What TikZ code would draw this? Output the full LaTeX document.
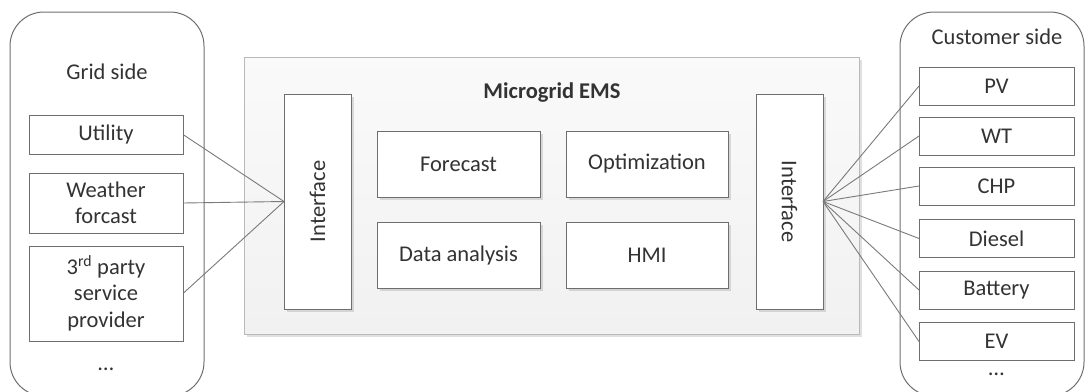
\documentclass[tikz,border=0pt]{standalone}
\usepackage{fontspec}
\setmainfont{Carlito}
\usetikzlibrary{shadows}
\definecolor{bd}{HTML}{6E6E6E}
\definecolor{ln}{HTML}{7A7A7A}
\definecolor{tx}{HTML}{333333}
\begin{document}
\begin{tikzpicture}[x=1pt,y=-1pt,
  every node/.style={inner sep=0pt,outer sep=0pt,text=tx,font=\fontsize{22.5}{26.5}\selectfont},
  sidebox/.style={draw=bd,line width=1pt,rounded corners=34pt},
  itembox/.style={draw=bd,line width=0.9pt,fill=white,align=center},
  inner/.style={draw=bd,line width=0.9pt,fill=white,align=center,
     drop shadow={shadow xshift=3pt,shadow yshift=-3pt,opacity=0.12,fill=black}},
  conn/.style={draw=ln,line width=0.9pt}]
\useasboundingbox (0,0) rectangle (1086,391);
\clip (0,0) rectangle (1086,391);
% side containers
\draw[sidebox] (10,12) rectangle (204,396);
\draw[sidebox] (900,12) rectangle (1084,396);
\node (gridlbl) at (107,72) {Grid side};
\node (custlbl) at (997,37) {Customer side};
% EMS box
\path[draw=gray!55,line width=1pt,top color=gray!4,bottom color=gray!11,
  drop shadow={shadow xshift=3pt,shadow yshift=-3pt,opacity=0.12,fill=black}] (244,57) rectangle (859,334);
\node[font=\fontsize{22.5}{26.5}\selectfont\bfseries] (ems) at (552,93) {Microgrid EMS};
% interfaces
\node[inner,minimum width=67pt,minimum height=215pt] (ifl) at (317.5,201.5) {};
\node[rotate=90] at (ifl.center) {Interface};
\node[inner,minimum width=67pt,minimum height=215pt] (ifr) at (789.5,201.5) {};
\node[rotate=-90] at (ifr.center) {Interface};
% modules
\node[inner,minimum width=163pt,minimum height=66pt] (fc) at (458.5,164) {Forecast};
\node[inner,minimum width=163pt,minimum height=66pt] (da) at (458.5,255) {Data analysis};
\node[inner,minimum width=162pt,minimum height=66pt] (opt) at (647,164) {Optimization};
\node[inner,minimum width=162pt,minimum height=66pt] (hmi) at (647,255) {HMI};
% grid side items
\node[itembox,minimum width=154pt,minimum height=39pt] (util) at (106,134.5) {Utility};
\node[itembox,minimum width=154pt,minimum height=60pt] (wf) at (106,203) {Weather\\forcast};
\node[itembox,minimum width=154pt,minimum height=95pt] (tp) at (106,293.5) {3\textsuperscript{rd} party\\service\\provider};
\node (gdots) at (106,369) {\dots};
% customer side items
\node[itembox,minimum width=155pt,minimum height=38pt] (pv) at (996.5,86) {PV};
\node[itembox,minimum width=155pt,minimum height=38pt] (wt) at (996.5,136) {WT};
\node[itembox,minimum width=155pt,minimum height=38pt] (chp) at (996.5,186) {CHP};
\node[itembox,minimum width=155pt,minimum height=38pt] (dsl) at (996.5,238.5) {Diesel};
\node[itembox,minimum width=155pt,minimum height=38pt] (bat) at (996.5,290) {Battery};
\node[itembox,minimum width=155pt,minimum height=38pt] (ev) at (996.5,341.5) {EV};
\node (cdots) at (996.5,374) {\dots};
% connectors
\foreach \n in {util,wf,tp} \draw[conn] (\n.east) -- (ifl.west);
\foreach \n in {pv,wt,chp,dsl,bat,ev} \draw[conn] (ifr.east) -- (\n.west);
\end{tikzpicture}
\end{document}
